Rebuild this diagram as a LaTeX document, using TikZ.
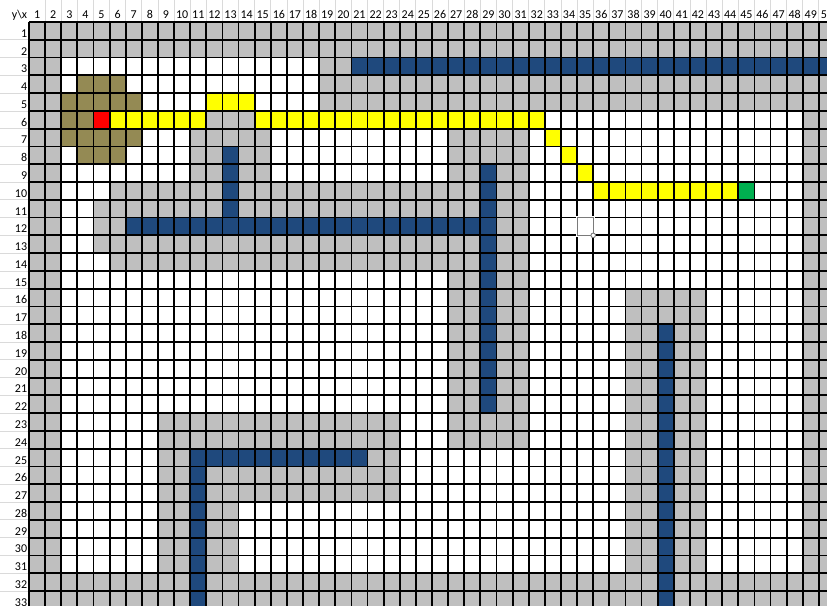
\documentclass[tikz,border=0pt]{standalone}
\usepackage{fontspec}
\setmainfont{Carlito}

\definecolor{wallgray}{HTML}{BFBFBF}
\definecolor{pipeblue}{HTML}{1F497D}
\definecolor{zoneolive}{HTML}{948A54}
\definecolor{trackyellow}{HTML}{FFFF00}
\definecolor{startred}{HTML}{FF0000}
\definecolor{goalgreen}{HTML}{00B050}
\definecolor{hdrline}{HTML}{DADADA}
\definecolor{selgray}{HTML}{7A7A7A}

\begin{document}
\begin{tikzpicture}[x=16.12pt, y=-17.78pt,
  wal/.style={fill=wallgray},
  blu/.style={fill=pipeblue},
  olv/.style={fill=zoneolive},
  trk/.style={fill=trackyellow},
  src/.style={fill=startred},
  dst/.style={fill=goalgreen},
  gl/.style={draw=black, line width=1.8pt},
  hgl/.style={draw=hdrline, line width=0.8pt},
  hdr/.style={font=\fontsize{12}{14}\selectfont, inner sep=0pt},
  hnd/.style={circle, draw=selgray, fill=white, line width=0.9pt, minimum size=4.6pt, inner sep=0pt}
]
\useasboundingbox (-1.799,-1.2373) rectangle (49.504,32.790);
\clip (-1.799,-1.2373) rectangle (49.504,32.790);
\fill[white] (-1.799,-1.2373) rectangle (49.504,32.790);

%--- header lines ---
\foreach \j in {1,...,33}
  \draw[hgl] (-1.799,\j) -- (0,\j);
\foreach \i in {1,...,50}
  \draw[hgl] (\i,-1.2373) -- (\i,0);

%--- walls ---
\foreach \a/\b/\c/\d in {1/1/50/2, 1/3/2/33, 1/32/50/33, 49/4/50/33, 19/3/20/3,
    19/4/50/5, 12/6/14/6, 11/7/15/9, 6/10/31/10, 5/11/31/11, 5/12/6/12,
    30/12/31/12, 5/13/31/13, 6/14/31/14, 27/7/31/24, 9/23/23/24, 9/25/10/31,
    12/25/23/27, 12/28/13/31, 38/16/42/33}
  \fill[wal] (\a-1,\b-1) rectangle (\c,\d);

%--- blue lines ---
\foreach \a/\b/\c/\d in {21/3/50/3, 13/8/13/12, 7/12/29/12, 29/9/29/22,
    11/25/21/25, 11/25/11/33, 40/18/40/33}
  \fill[blu] (\a-1,\b-1) rectangle (\c,\d);

%--- olive zone ---
\foreach \a/\b/\c/\d in {4/4/6/4, 3/5/7/5, 3/6/4/6, 3/7/7/7, 4/8/6/8}
  \fill[olv] (\a-1,\b-1) rectangle (\c,\d);

%--- yellow route, start and goal ---
\foreach \a/\b/\c/\d in {12/5/14/5, 6/6/11/6, 15/6/32/6, 33/7/33/7,
    34/8/34/8, 35/9/35/9, 36/10/44/10}
  \fill[trk] (\a-1,\b-1) rectangle (\c,\d);
\fill[src] (4,5) rectangle (5,6);
\fill[dst] (44,9) rectangle (45,10);

%--- grid ---
\foreach \i in {0,...,50}
  \draw[gl] (\i,0) -- (\i,33.5);
\foreach \j in {0,...,33}
  \draw[gl] (0,\j) -- (50.5,\j);

%--- selected cell ---
\fill[white] (34.03,11.03) rectangle (34.97,11.97);
\draw[white, line width=2.6pt] (34,11) rectangle (35,12);
\draw[selgray, line width=1.1pt] (34,11) rectangle (35,12);
\node[hnd] (sel) at (35,12) {};

%--- labels ---
\node[hdr, anchor=base east] (corner) at (-0.105,-0.17) {y\textbackslash x};
\foreach \i in {1,...,50}
  \node[hdr, anchor=base] (c\i) at (\i-0.5,-0.17) {\i};
\foreach \j in {1,...,33}
  \node[hdr, anchor=base east] (r\j) at (-0.105,\j-0.14) {\j};
\end{tikzpicture}
\end{document}
